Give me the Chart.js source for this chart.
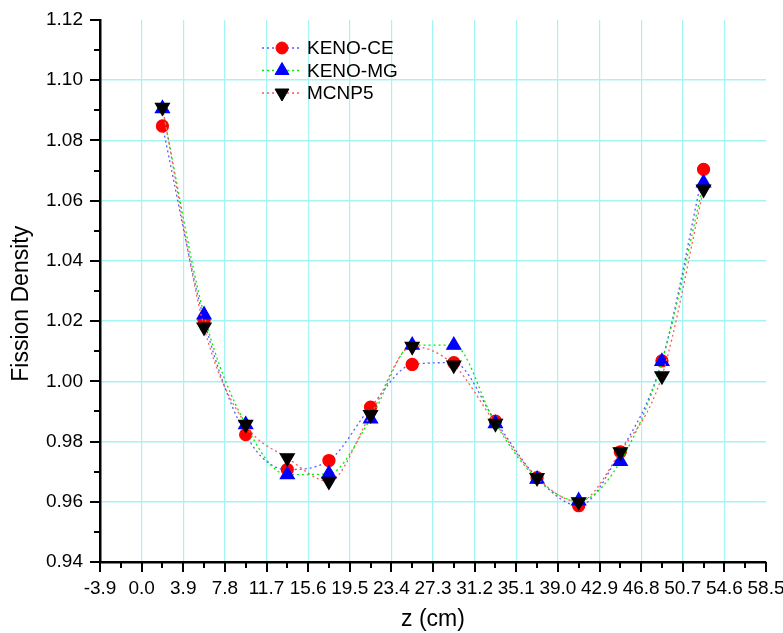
<!DOCTYPE html>
<html>
<head>
<meta charset="utf-8">
<script src="https://cdn.jsdelivr.net/npm/chart.js@4.4.0/dist/chart.umd.min.js"></script>
<style>
  body { margin: 0; background: #fff; }
  canvas { display: block; }
</style>
</head>
<body>
<canvas id="fissionChart" width="783" height="633"></canvas>
<script>
// axial positions (bin centres) and fission density per code
const zPos = [1.95, 5.85, 9.75, 13.65, 17.55, 21.45, 25.35, 29.25, 33.15, 37.05, 40.95, 44.85, 48.75, 52.65];
const kenoCE = [1.0848, 1.0203, 0.9823, 0.9707, 0.9737, 0.9914, 1.0056, 1.0062, 0.9868, 0.9680, 0.9587, 0.9766, 1.0068, 1.0704];
const kenoMG = [1.0906, 1.0221, 0.9856, 0.9690, 0.9693, 0.9875, 1.0120, 1.0120, 0.9860, 0.9675, 0.9603, 0.9734, 1.0066, 1.0659];
const mcnp5 = [1.0910, 1.0180, 0.9857, 0.9746, 0.9668, 0.9889, 1.0116, 1.0054, 0.9860, 0.9680, 0.9600, 0.9766, 1.0018, 1.0638];

const xTicks = [-3.9, 0.0, 3.9, 7.8, 11.7, 15.6, 19.5, 23.4, 27.3, 31.2, 35.1, 39.0, 42.9, 46.8, 50.7, 54.6, 58.5];
const yTicks = [0.94, 0.96, 0.98, 1.00, 1.02, 1.04, 1.06, 1.08, 1.10, 1.12];

const FONT = "'Liberation Sans', Arial, sans-serif";
Chart.defaults.font.family = FONT;
Chart.defaults.color = '#000';

const gridCyan = '#a4f4f4';

function pts(values) {
  return zPos.map((z, i) => ({ x: z, y: values[i] }));
}

// fixed plot box: scale sizes set by hand, no label overhang padding
function fixScale(size) {
  return scale => {
    if (scale.isHorizontal()) scale.height = size;
    else scale.width = size;
    scale.paddingTop = 0;
    scale.paddingBottom = 0;
    scale.paddingLeft = 0;
    scale.paddingRight = 0;
  };
}

// major + minor ticks drawn outside the axes
const axisTicks = {
  id: 'axisTicks',
  afterDraw(chart) {
    const { ctx, chartArea: area } = chart;
    const xs = chart.scales.x, ys = chart.scales.y;
    ctx.save();
    ctx.strokeStyle = '#000';
    ctx.lineWidth = 2;
    ctx.beginPath();
    xTicks.forEach((v, i) => {
      const px = Math.round(xs.getPixelForValue(v));
      ctx.moveTo(px, area.bottom);
      ctx.lineTo(px, area.bottom + 10);
      if (i < xTicks.length - 1) {
        const mx = Math.round(xs.getPixelForValue((v + xTicks[i + 1]) / 2));
        ctx.moveTo(mx, area.bottom);
        ctx.lineTo(mx, area.bottom + 6);
      }
    });
    yTicks.forEach((v, i) => {
      const py = Math.round(ys.getPixelForValue(v));
      ctx.moveTo(area.left, py);
      ctx.lineTo(area.left - 10, py);
      if (i < yTicks.length - 1) {
        const my = Math.round(ys.getPixelForValue((v + yTicks[i + 1]) / 2));
        ctx.moveTo(area.left, my);
        ctx.lineTo(area.left - 6, my);
      }
    });
    ctx.stroke();
    ctx.restore();
  }
};

// legend inside the plot, Origin style
const innerLegend = {
  id: 'innerLegend',
  afterDraw(chart) {
    const ctx = chart.ctx;
    ctx.save();
    chart.data.datasets.forEach((ds, i) => {
      const y = 48 + i * 22.5;
      ctx.strokeStyle = ds.borderColor;
      ctx.lineWidth = 1.3;
      ctx.setLineDash([2, 3]);
      ctx.beginPath();
      ctx.moveTo(262, y);
      ctx.lineTo(302, y);
      ctx.stroke();
      ctx.setLineDash([]);
      ctx.fillStyle = ds.pointBackgroundColor;
      ctx.strokeStyle = ds.pointBorderColor;
      ctx.lineWidth = 1;
      Chart.helpers.drawPoint(ctx, {
        pointStyle: ds.pointStyle,
        radius: ds.pointRadius,
        rotation: ds.pointRotation || 0,
        borderWidth: 1
      }, 282, y);
      ctx.fillStyle = '#000';
      ctx.font = '19px ' + FONT;
      ctx.textAlign = 'left';
      ctx.textBaseline = 'middle';
      ctx.fillText(ds.label, 307, y + 1);
    });
    ctx.restore();
  }
};

new Chart(document.getElementById('fissionChart'), {
  type: 'line',
  data: {
    datasets: [
      {
        label: 'KENO-CE',
        data: pts(kenoCE),
        borderColor: 'rgb(90,90,255)',
        borderWidth: 1.3,
        borderDash: [2, 3],
        pointStyle: 'circle',
        pointRadius: 6,
        pointBackgroundColor: 'rgb(255,0,0)',
        pointBorderColor: 'rgb(255,0,0)',
        cubicInterpolationMode: 'monotone',
        order: 3
      },
      {
        label: 'KENO-MG',
        data: pts(kenoMG),
        borderColor: 'rgb(0,235,0)',
        borderWidth: 1.3,
        borderDash: [2, 3],
        pointStyle: 'triangle',
        pointRadius: 8,
        pointBackgroundColor: 'rgb(0,0,255)',
        pointBorderColor: 'rgb(0,0,255)',
        cubicInterpolationMode: 'monotone',
        order: 2
      },
      {
        label: 'MCNP5',
        data: pts(mcnp5),
        borderColor: 'rgb(255,90,90)',
        borderWidth: 1.3,
        borderDash: [2, 3],
        pointStyle: 'triangle',
        pointRotation: 180,
        pointRadius: 8,
        pointBackgroundColor: '#000',
        pointBorderColor: '#000',
        cubicInterpolationMode: 'monotone',
        order: 1
      }
    ]
  },
  options: {
    responsive: false,
    animation: false,
    layout: { padding: { left: 0, top: 20, right: 17, bottom: 0 } },
    plugins: {
      legend: { display: false },
      tooltip: { enabled: false }
    },
    scales: {
      x: {
        type: 'linear',
        min: -3.9,
        max: 58.5,
        afterBuildTicks: scale => { scale.ticks = xTicks.map(v => ({ value: v })); },
        afterFit: fixScale(71),
        ticks: {
          autoSkip: false,
          maxRotation: 0,
          padding: 15,
          font: { size: 19 },
          callback: v => v.toFixed(1)
        },
        grid: {
          drawTicks: false,
          lineWidth: 1.2,
          color: c => (c.index === 0 || c.index === xTicks.length - 1) ? 'rgba(0,0,0,0)' : gridCyan
        },
        border: { color: '#000', width: 2.5 },
        title: {
          display: true,
          text: 'z (cm)',
          font: { size: 23 },
          padding: { top: 0, bottom: 0 }
        }
      },
      y: {
        type: 'linear',
        min: 0.94,
        max: 1.12,
        afterBuildTicks: scale => { scale.ticks = yTicks.map(v => ({ value: v })); },
        afterFit: fixScale(100),
        ticks: {
          padding: 17,
          font: { size: 19 },
          callback: v => v.toFixed(2)
        },
        grid: {
          drawTicks: false,
          lineWidth: 1.6,
          color: c => (c.index === 0 || c.index === yTicks.length - 1) ? 'rgba(0,0,0,0)' : gridCyan
        },
        border: { color: '#000', width: 2.5 },
        title: {
          display: true,
          text: 'Fission Density    ',
          font: { size: 23 },
          padding: { top: 8, bottom: 0 }
        }
      }
    }
  },
  plugins: [axisTicks, innerLegend]
});
</script>
</body>
</html>
